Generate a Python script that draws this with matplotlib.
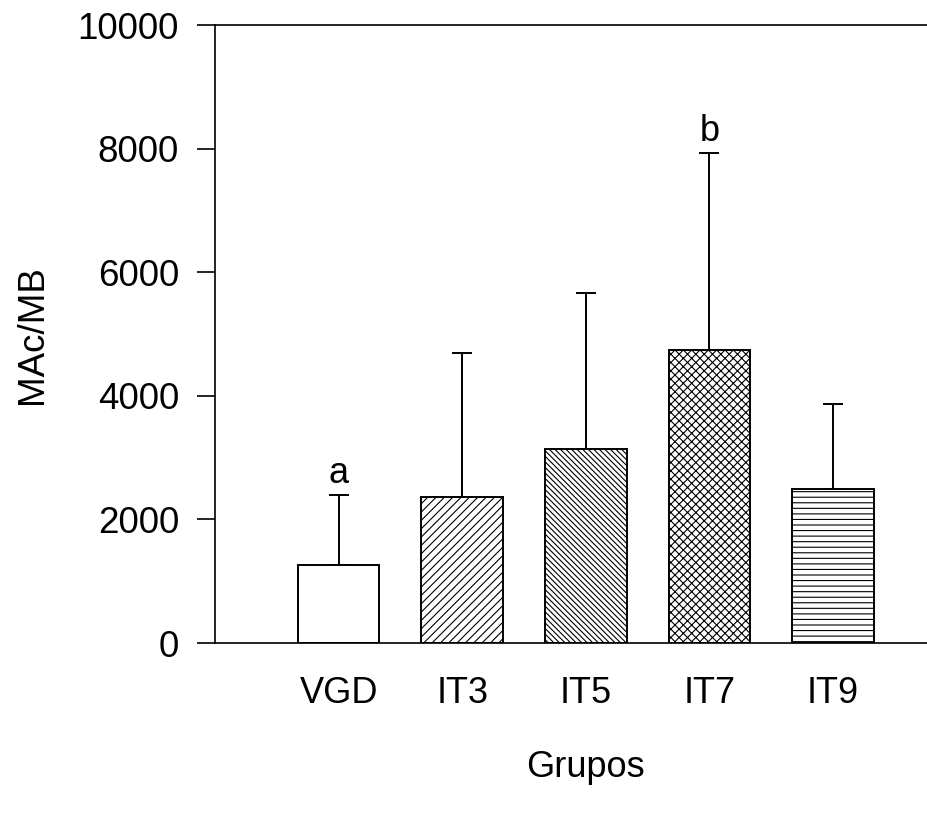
import numpy as np
import matplotlib
matplotlib.use("Agg")
import matplotlib.pyplot as plt

plt.rcParams['font.family'] = ['Liberation Sans', 'DejaVu Sans']
plt.rcParams['hatch.linewidth'] = 0.8

grupos = ["VGD", "IT3", "IT5", "IT7", "IT9"]
media = [1265, 2362, 3140, 4741, 2492]
erro = [1130, 2335, 2522, 3190, 1378]  # upper error only
hatches = ["", "////", "\\\\\\\\\\\\", "xxxx", "---"]
letras = {"VGD": "a", "IT7": "b"}

fig = plt.figure(figsize=(9.27, 8.14), dpi=100)
ax = fig.add_axes([0.232, 0.21, 0.80, 0.759])

x = np.arange(len(grupos))
for xi, m, e, h in zip(x, media, erro, hatches):
    ax.bar(xi, m, width=0.66, color="white", edgecolor="black",
           linewidth=1.4, hatch=h, zorder=2)
ax.errorbar(x, media, yerr=[np.zeros(len(erro)), erro], fmt="none",
            ecolor="black", elinewidth=1.4, capsize=7, capthick=1.4, zorder=1)

for xi, g, m, e in zip(x, grupos, media, erro):
    if g in letras:
        ax.text(xi, m + e + 60, letras[g], ha="center", va="bottom", fontsize=26)

ax.set_xlim(-1, 5)
ax.set_ylim(0, 10000)
ax.set_yticks(np.arange(0, 10001, 2000))
ax.set_xticks(x)
ax.set_xticklabels(grupos)
ax.tick_params(axis="x", length=0, pad=24, labelsize=26)
ax.tick_params(axis="y", direction="out", length=13, width=1.2, pad=13, labelsize=26.5)
ax.spines["right"].set_visible(False)
for s in ["left", "top", "bottom"]:
    ax.spines[s].set_linewidth(1.2)

ax.set_xlabel("Grupos", fontsize=26, labelpad=28)
ax.set_ylabel("MAc/MB", fontsize=26.5, labelpad=20)

fig.savefig("out.png", dpi=100)
